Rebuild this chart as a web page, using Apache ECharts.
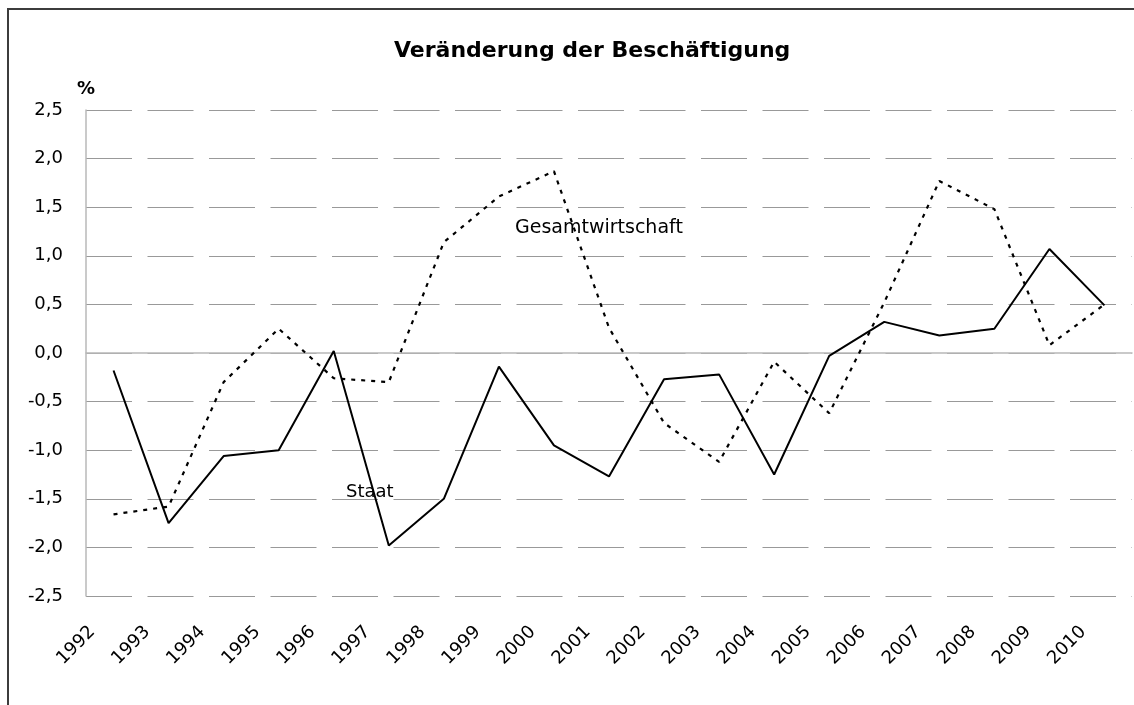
<!DOCTYPE html>
<html>
<head>
<meta charset="utf-8">
<script src="https://cdn.jsdelivr.net/npm/echarts@6/dist/echarts.min.js"></script>
<style>
  html, body { margin: 0; padding: 0; background: #fff; }
  #chart { width: 1134px; height: 705px; }
</style>
</head>
<body>
<div id="chart"></div>
<script>
const years = ['1992','1993','1994','1995','1996','1997','1998','1999','2000','2001',
               '2002','2003','2004','2005','2006','2007','2008','2009','2010'];
const staat = [-0.18, -1.75, -1.06, -1.00, 0.02, -1.98, -1.50, -0.14, -0.95, -1.27,
               -0.27, -0.22, -1.25, -0.03, 0.32, 0.18, 0.25, 1.07, 0.49];
const gesamtwirtschaft = [-1.66, -1.58, -0.30, 0.25, -0.26, -0.30, 1.14, 1.61, 1.87, 0.26,
                          -0.72, -1.12, -0.09, -0.62, 0.52, 1.77, 1.48, 0.08, 0.50];
const yTicks = { min: -2.5, max: 2.5, interval: 0.5 };

const FONT = 'DejaVu Sans';
const chart = echarts.init(document.getElementById('chart'), null, { renderer: 'canvas' });

chart.setOption({
  backgroundColor: '#ffffff',
  animation: false,
  title: {
    text: 'Veränderung der Beschäftigung',
    left: 394,
    top: 40,
    padding: 0,
    textStyle: { fontFamily: FONT, fontWeight: 'bold', fontSize: 22, color: '#000' }
  },
  grid: { left: 86, right: 2, top: 110, bottom: 109, containLabel: false },
  xAxis: {
    type: 'category',
    data: years,
    boundaryGap: true,
    axisLine: { show: true, lineStyle: { color: '#b8b8b8', width: 1.5 } },
    axisTick: { show: false },
    splitLine: { show: false },
    axisLabel: {
      interval: 0,
      rotate: 45,
      margin: 12,
      padding: [0, 30, 0, 0],
      fontFamily: FONT,
      fontSize: 18,
      color: '#000'
    }
  },
  yAxis: {
    type: 'value',
    min: yTicks.min,
    max: yTicks.max,
    interval: yTicks.interval,
    name: '%',
    nameLocation: 'end',
    nameGap: 12,
    nameTextStyle: { fontFamily: FONT, fontWeight: 'bold', fontSize: 18, color: '#000' },
    axisLine: { show: true, lineStyle: { color: '#b8b8b8', width: 1.5 } },
    axisTick: { show: false },
    axisLabel: {
      margin: 23,
      fontFamily: FONT,
      fontSize: 18,
      color: '#000',
      formatter: v => v.toFixed(1).replace('.', ',')
    },
    splitLine: { show: true, lineStyle: { color: '#999', width: 1, type: [46, 15.5] } }
  },
  series: [
    {
      name: 'Gesamtwirtschaft',
      type: 'line',
      data: gesamtwirtschaft,
      symbol: 'none',
      lineStyle: { color: '#000', width: 2.2, type: [4, 6] },
      z: 3
    },
    {
      name: 'Staat',
      type: 'line',
      data: staat,
      symbol: 'none',
      lineStyle: { color: '#000', width: 2, type: 'solid' },
      z: 4
    }
  ],
  graphic: [
    {
      type: 'rect',
      shape: { x: 8, y: 9, width: 1300, height: 900 },
      style: { fill: 'none', stroke: '#3c3c3c', lineWidth: 2 },
      silent: true
    },
    {
      type: 'text',
      left: 515,
      top: 219,
      style: { text: 'Gesamtwirtschaft', font: '19px "DejaVu Sans"', fill: '#000' },
      z: 10
    },
    {
      type: 'text',
      left: 346,
      top: 483,
      style: { text: 'Staat', font: '18px "DejaVu Sans"', fill: '#000' },
      z: 10
    }
  ]
});
</script>
</body>
</html>
